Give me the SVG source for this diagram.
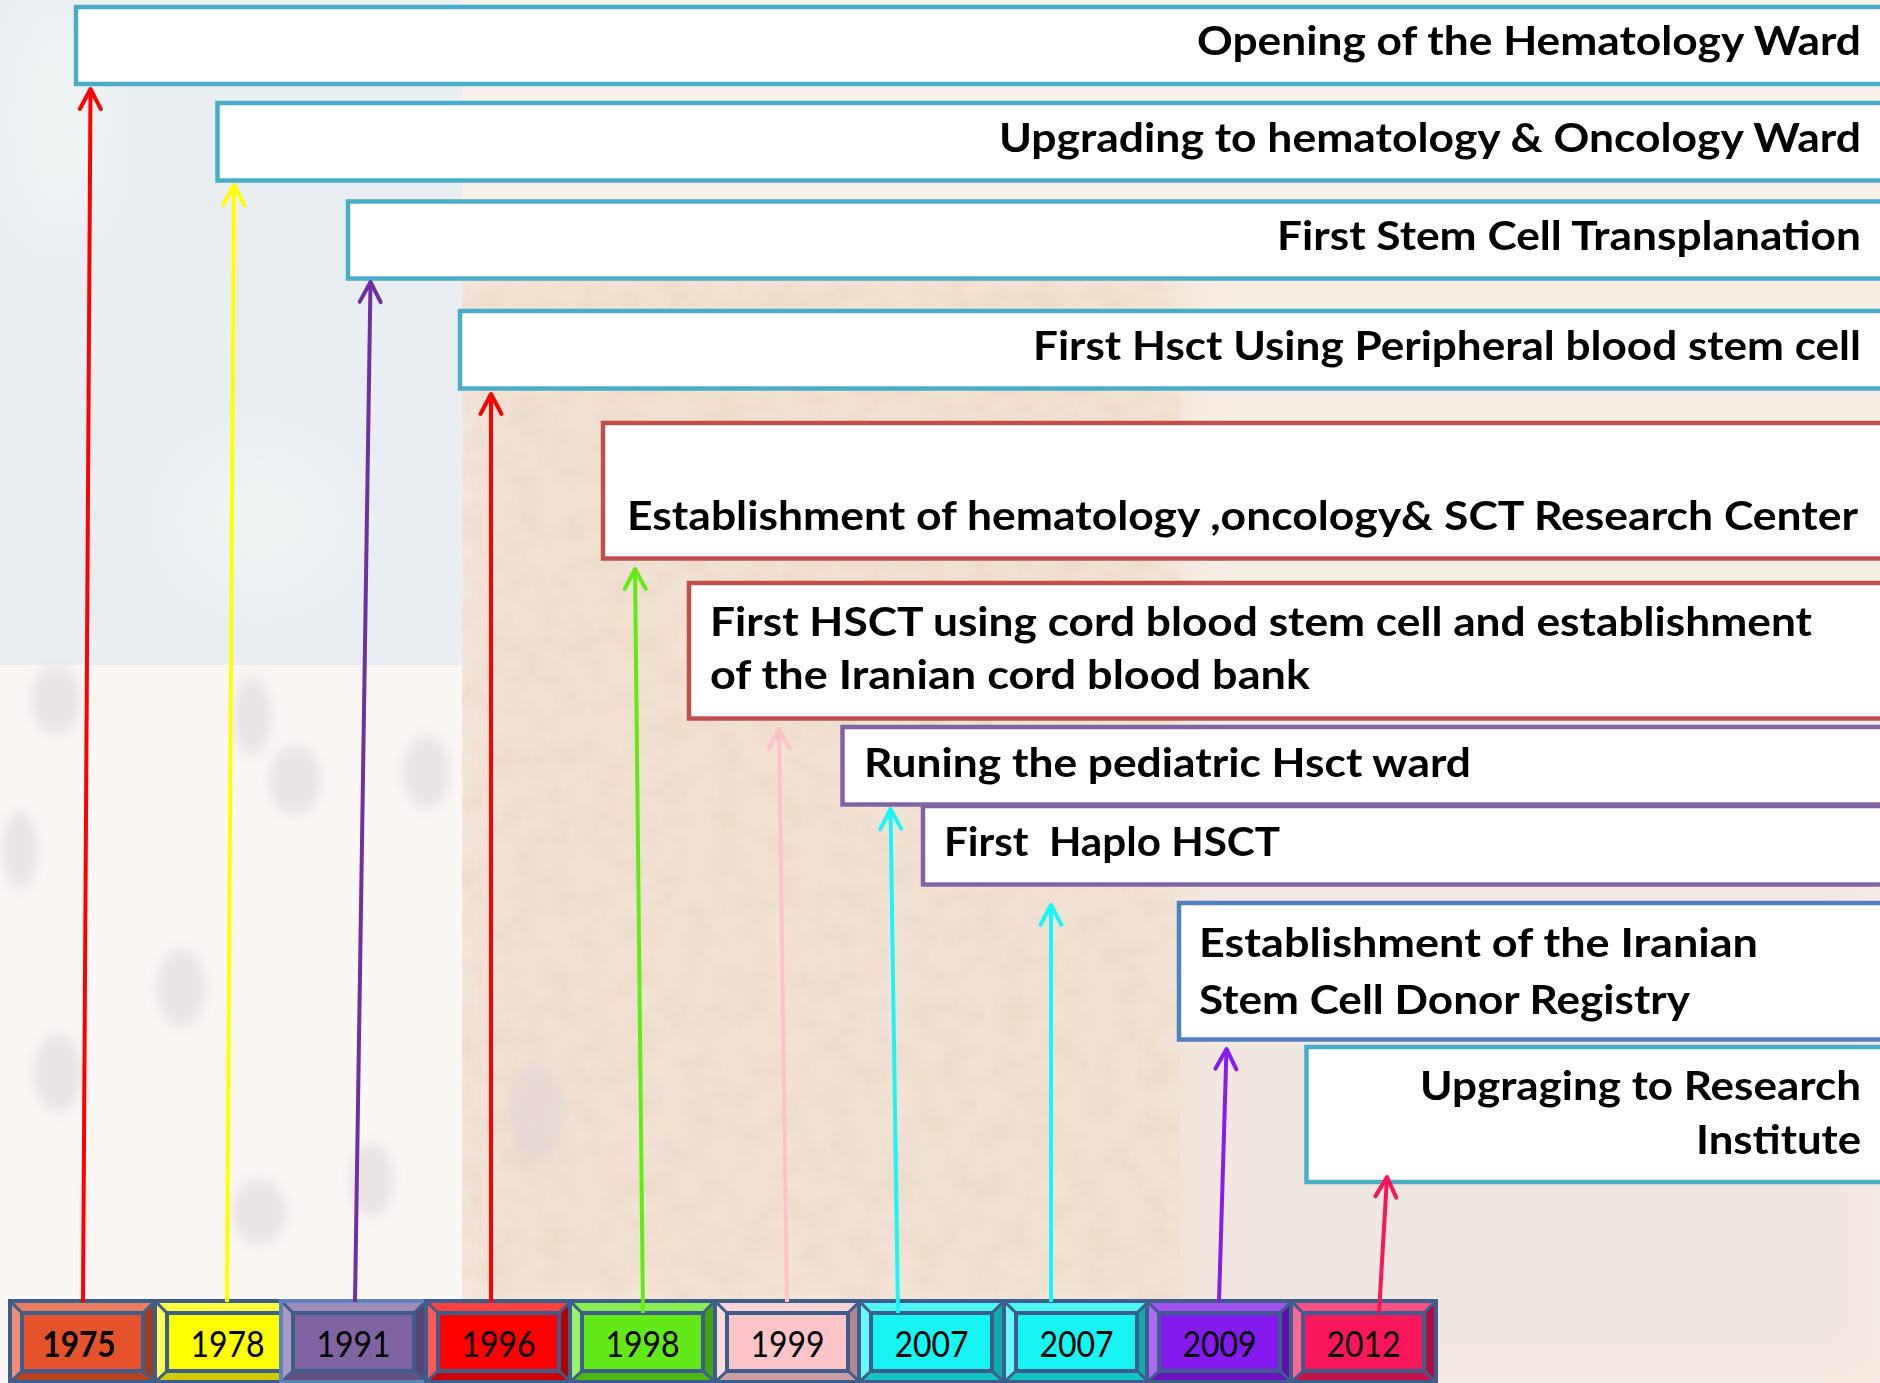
<svg xmlns="http://www.w3.org/2000/svg" width="1880" height="1383" viewBox="0 0 1880 1383">
<defs>
<style>
.box{fill:#ffffff;stroke-width:4.5}
.teal{stroke:#4BACC6}
.redb{stroke:#C0504D}
.purb{stroke:#8064A2}
.blub{stroke:#4F81BD}
.lbl{font-family:Lato,"Open Sans","Liberation Sans",sans-serif;font-weight:700;font-size:40px;fill:#000000;white-space:pre}
.yr{font-family:Lato,"Open Sans","Liberation Sans",sans-serif;font-size:32px;fill:#000000;text-anchor:middle}
.ln{fill:none;stroke-width:4}
.spot{fill:#D9CED6;opacity:0.45}
</style>
<filter id="blur6" x="-50%" y="-50%" width="200%" height="200%"><feGaussianBlur stdDeviation="6"/></filter>
<filter id="blur25" x="-20%" y="-20%" width="140%" height="140%"><feGaussianBlur stdDeviation="25"/></filter>
<filter id="tex" x="0" y="0" width="100%" height="100%">
<feTurbulence type="fractalNoise" baseFrequency="0.035" numOctaves="3" seed="7"/>
<feColorMatrix type="matrix" values="0 0 0 0 0.80  0 0 0 0 0.66  0 0 0 0 0.54  0 0 0 1.6 -0.6"/>
</filter>
<g id="bevel">
<polygon points="0,0 145,0 133,12 12,12" fill="#ffffff" opacity="0.25"/>
<polygon points="0,0 12,12 12,70 0,81" fill="#ffffff" opacity="0.35"/>
<polygon points="0,81 12,70 133,70 145,81" fill="#000000" opacity="0.2"/>
<polygon points="145,0 145,81 133,70 133,12" fill="#000000" opacity="0.3"/>
<path d="M0,0 L12,12 M145,0 L133,12 M0,81 L12,70 M145,81 L133,70" stroke="#3D5E8A" stroke-width="3" fill="none"/>
<rect x="12" y="12" width="121" height="58" fill="none" stroke="#3D5E8A" stroke-width="4"/>
<rect x="0" y="0" width="145" height="81" fill="none" stroke="#3D5E8A" stroke-width="4"/>
</g>
<marker id="m-red" markerUnits="userSpaceOnUse" markerWidth="40" markerHeight="40" viewBox="-30 -20 40 40" refX="0" refY="0" orient="auto" overflow="visible"><path d="M-20,-10.5 L0,0 L-20,10.5" fill="none" stroke="#FF0000" stroke-width="4" stroke-linecap="round" stroke-linejoin="round"/></marker>
<marker id="m-yel" markerUnits="userSpaceOnUse" markerWidth="40" markerHeight="40" viewBox="-30 -20 40 40" refX="0" refY="0" orient="auto" overflow="visible"><path d="M-20,-10.5 L0,0 L-20,10.5" fill="none" stroke="#FFFF00" stroke-width="4" stroke-linecap="round" stroke-linejoin="round"/></marker>
<marker id="m-pur" markerUnits="userSpaceOnUse" markerWidth="40" markerHeight="40" viewBox="-30 -20 40 40" refX="0" refY="0" orient="auto" overflow="visible"><path d="M-20,-10.5 L0,0 L-20,10.5" fill="none" stroke="#7030A0" stroke-width="4" stroke-linecap="round" stroke-linejoin="round"/></marker>
<marker id="m-grn" markerUnits="userSpaceOnUse" markerWidth="40" markerHeight="40" viewBox="-30 -20 40 40" refX="0" refY="0" orient="auto" overflow="visible"><path d="M-20,-10.5 L0,0 L-20,10.5" fill="none" stroke="#62EC14" stroke-width="4" stroke-linecap="round" stroke-linejoin="round"/></marker>
<marker id="m-pnk" markerUnits="userSpaceOnUse" markerWidth="40" markerHeight="40" viewBox="-30 -20 40 40" refX="0" refY="0" orient="auto" overflow="visible"><path d="M-20,-10.5 L0,0 L-20,10.5" fill="none" stroke="#FFC2C8" stroke-width="4" stroke-linecap="round" stroke-linejoin="round"/></marker>
<marker id="m-cyn" markerUnits="userSpaceOnUse" markerWidth="40" markerHeight="40" viewBox="-30 -20 40 40" refX="0" refY="0" orient="auto" overflow="visible"><path d="M-20,-10.5 L0,0 L-20,10.5" fill="none" stroke="#1AF5F5" stroke-width="4" stroke-linecap="round" stroke-linejoin="round"/></marker>
<marker id="m-vio" markerUnits="userSpaceOnUse" markerWidth="40" markerHeight="40" viewBox="-30 -20 40 40" refX="0" refY="0" orient="auto" overflow="visible"><path d="M-20,-10.5 L0,0 L-20,10.5" fill="none" stroke="#861CF0" stroke-width="4" stroke-linecap="round" stroke-linejoin="round"/></marker>
<marker id="m-crm" markerUnits="userSpaceOnUse" markerWidth="40" markerHeight="40" viewBox="-30 -20 40 40" refX="0" refY="0" orient="auto" overflow="visible"><path d="M-20,-10.5 L0,0 L-20,10.5" fill="none" stroke="#FA1558" stroke-width="4" stroke-linecap="round" stroke-linejoin="round"/></marker>
</defs>

<g id="background">
<rect x="0" y="0" width="1880" height="1383" fill="#F6EDE5"/>
<rect x="1100" y="880" width="780" height="503" fill="#F1E7E1" filter="url(#blur25)"/>
<rect x="460" y="250" width="720" height="1060" fill="#F2E2D4" filter="url(#blur25)"/>
<rect x="460" y="250" width="720" height="1060" filter="url(#tex)" opacity="0.6"/>
<rect x="0" y="0" width="1880" height="250" fill="#F8F1E9"/>
<rect x="0" y="650" width="462" height="733" fill="#FBF7F5"/>
<rect x="0" y="0" width="462" height="665" fill="#E8EEF1"/>
<ellipse cx="60" cy="120" rx="50" ry="120" fill="#EFF4F5" filter="url(#blur25)"/>
<ellipse cx="260" cy="520" rx="90" ry="80" fill="#EEF3F4" filter="url(#blur25)"/>
<g id="spots" filter="url(#blur6)">
<ellipse class="spot" cx="56" cy="700" rx="25" ry="36"/>
<ellipse class="spot" cx="252" cy="716" rx="20" ry="40"/>
<ellipse class="spot" cx="295" cy="780" rx="26" ry="36"/>
<ellipse class="spot" cx="426" cy="772" rx="24" ry="38"/>
<ellipse class="spot" cx="181" cy="988" rx="25" ry="40"/>
<ellipse class="spot" cx="58" cy="1073" rx="25" ry="40"/>
<ellipse class="spot" cx="259" cy="1212" rx="28" ry="34"/>
<ellipse class="spot" cx="372" cy="1180" rx="22" ry="38"/>
<ellipse class="spot" cx="536" cy="1113" rx="28" ry="50"/>
<ellipse class="spot" cx="20" cy="850" rx="18" ry="40"/>
</g>
</g>

<g id="node-opening">
<rect class="box teal" x="76" y="7" width="1840" height="77"/>
<text class="lbl" x="1197" y="55" textLength="664" lengthAdjust="spacingAndGlyphs">Opening of the Hematology Ward</text>
</g>
<g id="node-upgrading-ward">
<rect class="box teal" x="217.5" y="103" width="1700" height="77.5"/>
<text class="lbl" x="999" y="152" textLength="862" lengthAdjust="spacingAndGlyphs">Upgrading to hematology &amp; Oncology Ward</text>
</g>
<g id="node-first-sct">
<rect class="box teal" x="348" y="201.5" width="1570" height="77"/>
<text class="lbl" x="1277" y="250" textLength="584" lengthAdjust="spacingAndGlyphs">First Stem Cell Transplanation</text>
</g>
<g id="node-pbsc">
<rect class="box teal" x="460" y="311" width="1460" height="77.5"/>
<text class="lbl" x="1033" y="360" textLength="828" lengthAdjust="spacingAndGlyphs">First Hsct Using Peripheral blood stem cell</text>
</g>
<g id="node-research-center">
<rect class="box redb" x="603" y="423" width="1320" height="135.5"/>
<text class="lbl" x="627" y="530" textLength="1231" lengthAdjust="spacingAndGlyphs">Establishment of hematology ,oncology&amp; SCT Research Center</text>
</g>
<g id="node-cord-blood">
<rect class="box redb" x="689" y="583" width="1230" height="135.5"/>
<text class="lbl" x="710" y="636" textLength="1102" lengthAdjust="spacingAndGlyphs">First HSCT using cord blood stem cell and establishment</text>
<text class="lbl" x="710" y="689" textLength="600" lengthAdjust="spacingAndGlyphs">of the Iranian cord blood bank</text>
</g>
<g id="node-haplo">
<rect class="box purb" x="923" y="806" width="1000" height="78.5"/>
<text class="lbl" x="944" y="856" textLength="336" lengthAdjust="spacingAndGlyphs">First  Haplo HSCT</text>
</g>
<g id="node-pediatric">
<rect class="box purb" x="842.5" y="727" width="1080" height="77.5"/>
<text class="lbl" x="864" y="777" textLength="607" lengthAdjust="spacingAndGlyphs">Runing the pediatric Hsct ward</text>
</g>
<g id="node-donor-registry">
<rect class="box blub" x="1179" y="903" width="740" height="136.5"/>
<text class="lbl" x="1199" y="957" textLength="559" lengthAdjust="spacingAndGlyphs">Establishment of the Iranian</text>
<text class="lbl" x="1199" y="1014" textLength="491" lengthAdjust="spacingAndGlyphs">Stem Cell Donor Registry</text>
</g>
<g id="node-institute">
<rect class="box teal" x="1306.5" y="1047" width="620" height="135"/>
<text class="lbl" x="1420" y="1100" textLength="441" lengthAdjust="spacingAndGlyphs">Upgraging to Research</text>
<text class="lbl" x="1696" y="1154" textLength="165" lengthAdjust="spacingAndGlyphs">Institute</text>
</g>

<g id="timeline">
<g id="year-1975" transform="translate(10,1301)">
<rect width="145" height="81" fill="#E4532B"/><use href="#bevel"/>
<text class="yr" x="69" y="0" font-weight="700" textLength="73" lengthAdjust="spacingAndGlyphs" transform="translate(0,56) scale(1,1.15)">1975</text>
</g>
<g id="year-1978" transform="translate(155,1301)">
<rect width="145" height="81" fill="#FFFF00"/><use href="#bevel"/>
<text class="yr" x="72.5" y="0" transform="translate(0,56) scale(1,1.15)">1978</text>
</g>
<g id="year-1991" transform="translate(281,1301)">
<rect width="145" height="81" fill="#8064A2"/><use href="#bevel"/>
<rect width="145" height="81" fill="none" stroke="#5A84BA" stroke-width="4"/>
<text class="yr" x="72.5" y="0" transform="translate(0,56) scale(1,1.15)">1991</text>
</g>
<g id="year-1996" transform="translate(426,1301)">
<rect width="145" height="81" fill="#FF0000"/><use href="#bevel"/>
<text class="yr" x="72.5" y="0" transform="translate(0,56) scale(1,1.15)">1996</text>
</g>
<g id="year-1998" transform="translate(570,1301)">
<rect width="145" height="81" fill="#63E81A"/><use href="#bevel"/>
<text class="yr" x="72.5" y="0" transform="translate(0,56) scale(1,1.15)">1998</text>
</g>
<g id="year-1999" transform="translate(715,1301)">
<rect width="145" height="81" fill="#FFC5C8"/><use href="#bevel"/>
<text class="yr" x="72.5" y="0" transform="translate(0,56) scale(1,1.15)">1999</text>
</g>
<g id="year-2007a" transform="translate(859,1301)">
<rect width="145" height="81" fill="#16F4F4"/><use href="#bevel"/>
<text class="yr" x="72.5" y="0" transform="translate(0,56) scale(1,1.15)">2007</text>
</g>
<g id="year-2007b" transform="translate(1004,1301)">
<rect width="145" height="81" fill="#16F4F4"/><use href="#bevel"/>
<text class="yr" x="72.5" y="0" transform="translate(0,56) scale(1,1.15)">2007</text>
</g>
<g id="year-2009" transform="translate(1147,1301)">
<rect width="145" height="81" fill="#851AEF"/><use href="#bevel"/>
<text class="yr" x="72.5" y="0" transform="translate(0,56) scale(1,1.15)">2009</text>
</g>
<g id="year-2012" transform="translate(1291,1301)">
<rect width="145" height="81" fill="#F7175A"/><use href="#bevel"/>
<text class="yr" x="72.5" y="0" transform="translate(0,56) scale(1,1.15)">2012</text>
</g>
</g>

<g id="connectors">
<line class="ln" x1="83" y1="1302" x2="90.5" y2="89" stroke="#FF0000" marker-end="url(#m-red)"/>
<line class="ln" x1="227" y1="1302" x2="234" y2="185" stroke="#FFFF00" marker-end="url(#m-yel)"/>
<line class="ln" x1="355" y1="1302" x2="370.5" y2="282" stroke="#7030A0" marker-end="url(#m-pur)"/>
<line class="ln" x1="491" y1="1302" x2="491" y2="394" stroke="#FF0000" marker-end="url(#m-red)"/>
<line class="ln" x1="643" y1="1313" x2="635" y2="569" stroke="#62EC14" marker-end="url(#m-grn)"/>
<line class="ln" x1="787" y1="1302" x2="779" y2="729" stroke="#FFC2C8" marker-end="url(#m-pnk)"/>
<line class="ln" x1="898" y1="1313" x2="890.5" y2="809" stroke="#1AF5F5" marker-end="url(#m-cyn)"/>
<line class="ln" x1="1051" y1="1302" x2="1051" y2="905" stroke="#1AF5F5" marker-end="url(#m-cyn)"/>
<line class="ln" x1="1219" y1="1302" x2="1226.5" y2="1049" stroke="#861CF0" marker-end="url(#m-vio)"/>
<line class="ln" x1="1379" y1="1313" x2="1387" y2="1177" stroke="#FA1558" marker-end="url(#m-crm)"/>
</g>
</svg>
